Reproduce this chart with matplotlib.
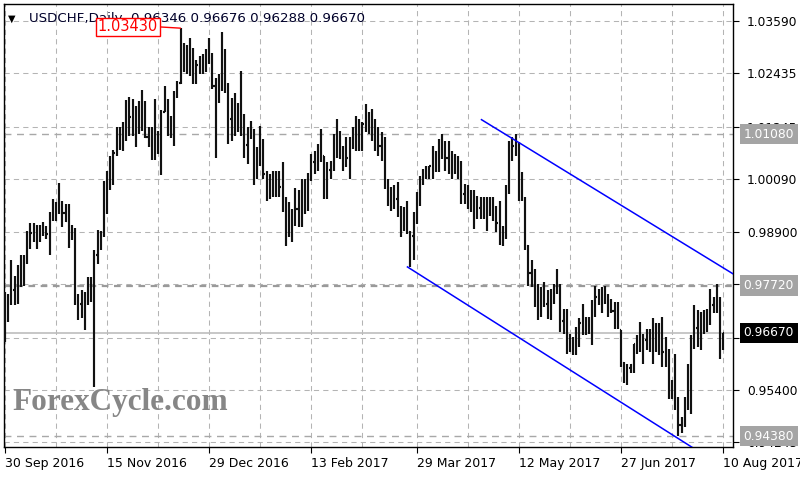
import numpy as np
import matplotlib
matplotlib.use("Agg")
import matplotlib.pyplot as plt
from matplotlib.collections import LineCollection

# USDCHF daily bars, 30 Sep 2016 .. 10 Aug 2017
highs = [
    0.9758, 0.9754, 0.9829, 0.9794, 0.9817, 0.9839, 0.9839, 0.9893, 0.9910, 0.9910,
    0.9907, 0.9907, 0.9914, 0.9905, 0.9935, 0.9964, 0.9957, 1.0000, 0.9960, 0.9953,
    0.9953, 0.9907, 0.9900, 0.9754, 0.9763, 0.9758, 0.9791, 0.9791, 0.9850, 0.9896,
    0.9894, 1.0005, 1.0027, 1.0060, 1.0073, 1.0123, 1.0123, 1.0134, 1.0183, 1.0191,
    1.0186, 1.0171, 1.0182, 1.0205, 1.0182, 1.0124, 1.0123, 1.0186, 1.0114, 1.0161,
    1.0215, 1.0186, 1.0149, 1.0204, 1.0226, 1.0343, 1.0311, 1.0306, 1.0322, 1.0300,
    1.0273, 1.0282, 1.0285, 1.0296, 1.0322, 1.0289, 1.0232, 1.0241, 1.0335, 1.0296,
    1.0222, 1.0188, 1.0200, 1.0178, 1.0248, 1.0152, 1.0123, 1.0138, 1.0119, 1.0079,
    1.0127, 1.0097, 1.0027, 1.0019, 1.0027, 1.0027, 1.0027, 1.0045, 0.9968, 0.9957,
    0.9942, 0.9989, 0.9983, 1.0008, 1.0008, 1.0021, 1.0064, 1.0070, 1.0086, 1.0119,
    1.0060, 1.0045, 1.0048, 1.0108, 1.0141, 1.0115, 1.0082, 1.0101, 1.0101, 1.0123,
    1.0149, 1.0141, 1.0134, 1.0174, 1.0156, 1.0163, 1.0141, 1.0123, 1.0112, 1.0102,
    1.0008, 0.9990, 0.9994, 1.0001, 0.9949, 0.9946, 0.9960, 0.9894, 0.9935, 0.9979,
    1.0016, 1.0031, 1.0038, 1.0038, 1.0082, 1.0071, 1.0097, 1.0108, 1.0093, 1.0093,
    1.0071, 1.0064, 1.0060, 1.0049, 0.9997, 0.9994, 0.9983, 0.9983, 0.9971, 0.9968,
    0.9968, 0.9968, 0.9968, 0.9968, 0.9949, 0.9960, 0.9905, 0.9994, 1.0093, 1.0101,
    1.0108, 1.0090, 1.0023, 0.9968, 0.9861, 0.9828, 0.9809, 0.9776, 0.9769, 0.9780,
    0.9761, 0.9765, 0.9776, 0.9809, 0.9776, 0.9721, 0.9721, 0.9665, 0.9658, 0.9680,
    0.9699, 0.9732, 0.9702, 0.9702, 0.9739, 0.9772, 0.9765, 0.9769, 0.9772, 0.9754,
    0.9743, 0.9735, 0.9735, 0.9673, 0.9603, 0.9599, 0.9599, 0.9643, 0.9662, 0.9691,
    0.9665, 0.9676, 0.9676, 0.9699, 0.9688, 0.9688, 0.9702, 0.9658, 0.9632, 0.9562,
    0.9621, 0.9525, 0.9481, 0.9525, 0.9599, 0.9662, 0.9728, 0.9717, 0.9713, 0.9717,
    0.9721, 0.9765, 0.9747, 0.9776, 0.9747, 0.96676,
]
lows = [
    0.9647, 0.9691, 0.9728, 0.9728, 0.9732, 0.9769, 0.9772, 0.9820, 0.9853, 0.9868,
    0.9853, 0.9868, 0.9883, 0.9876, 0.9839, 0.9916, 0.9916, 0.9931, 0.9901, 0.9912,
    0.9856, 0.9872, 0.9728, 0.9696, 0.9699, 0.9674, 0.9728, 0.9735, 0.9547, 0.9820,
    0.9850, 0.9879, 0.9931, 0.9983, 0.9994, 1.0060, 1.0073, 1.0071, 1.0093, 1.0104,
    1.0104, 1.0079, 1.0108, 1.0115, 1.0099, 1.0079, 1.0051, 1.0051, 1.0064, 1.0018,
    1.0156, 1.0104, 1.0099, 1.0082, 1.0189, 1.0219, 1.0245, 1.0241, 1.0237, 1.0219,
    1.0219, 1.0241, 1.0241, 1.0245, 1.0263, 1.0208, 1.0056, 1.0178, 1.0204, 1.0200,
    1.0086, 1.0093, 1.0104, 1.0112, 1.0104, 1.0056, 1.0042, 1.0097, 0.9994, 1.0008,
    1.0038, 1.0008, 0.9960, 0.9964, 0.9968, 0.9969, 0.9968, 0.9935, 0.9859, 0.9879,
    0.9868, 0.9903, 0.9901, 0.9901, 0.9931, 0.9938, 1.0005, 1.0019, 1.0027, 1.0045,
    0.9964, 0.9964, 1.0008, 1.0027, 1.0056, 1.0053, 1.0027, 1.0034, 1.0008, 1.0075,
    1.0071, 1.0071, 1.0071, 1.0112, 1.0108, 1.0093, 1.0071, 1.0060, 1.0049, 0.9986,
    0.9949, 0.9938, 0.9942, 0.9924, 0.9879, 0.9894, 0.9887, 0.9814, 0.9828, 0.9909,
    0.9949, 0.9994, 1.0008, 1.0008, 1.0008, 1.0023, 1.0023, 1.0053, 1.0027, 1.0019,
    1.0008, 1.0019, 1.0008, 0.9953, 0.9953, 0.9942, 0.9935, 0.9898, 0.9920, 0.9920,
    0.9920, 0.9894, 0.9927, 0.9916, 0.9890, 0.9861, 0.9859, 0.9876, 0.9975, 1.0049,
    1.0060, 0.9960, 0.9960, 0.9850, 0.9772, 0.9769, 0.9724, 0.9695, 0.9702, 0.9724,
    0.9698, 0.9695, 0.9732, 0.9754, 0.9669, 0.9665, 0.9621, 0.9625, 0.9617, 0.9617,
    0.9636, 0.9662, 0.9662, 0.9665, 0.9639, 0.9702, 0.9728, 0.9710, 0.9732, 0.9702,
    0.9710, 0.9676, 0.9676, 0.9591, 0.9555, 0.9551, 0.9577, 0.9577, 0.9621, 0.9625,
    0.9599, 0.9628, 0.9625, 0.9599, 0.9625, 0.9617, 0.9591, 0.9591, 0.9521, 0.9521,
    0.9496, 0.9438, 0.9444, 0.9459, 0.9496, 0.9488, 0.9632, 0.9636, 0.9628, 0.9665,
    0.9669, 0.9684, 0.9710, 0.9710, 0.9610, 0.96288,
]
opens = [
    0.9700, 0.9723, 0.9748, 0.9761, 0.9775, 0.9804, 0.9806, 0.9835, 0.9882, 0.9889,
    0.9880, 0.9888, 0.9899, 0.9891, 0.9887, 0.9930, 0.9937, 0.9950, 0.9945, 0.9933,
    0.9915, 0.9890, 0.9880, 0.9740, 0.9731, 0.9716, 0.9745, 0.9763, 0.9760, 0.9840,
    0.9872, 0.9885, 0.9979, 1.0022, 1.0034, 1.0065, 1.0098, 1.0103, 1.0125, 1.0148,
    1.0145, 1.0125, 1.0145, 1.0160, 1.0141, 1.0102, 1.0087, 1.0119, 1.0089, 1.0090,
    1.0150, 1.0160, 1.0124, 1.0143, 1.0195, 1.0222, 1.0278, 1.0274, 1.0280, 1.0260,
    1.0246, 1.0262, 1.0263, 1.0271, 1.0293, 1.0270, 1.0215, 1.0200, 1.0215, 1.0248,
    1.0210, 1.0141, 1.0152, 1.0145, 1.0160, 1.0120, 1.0083, 1.0110, 1.0110, 1.0044,
    1.0050, 1.0053, 1.0020, 0.9992, 0.9998, 0.9998, 0.9998, 0.9990, 0.9945, 0.9918,
    0.9905, 0.9930, 0.9942, 0.9955, 0.9970, 0.9980, 1.0010, 1.0045, 1.0057, 1.0080,
    1.0060, 1.0005, 1.0028, 1.0040, 1.0099, 1.0084, 1.0055, 1.0068, 1.0055, 1.0095,
    1.0110, 1.0106, 1.0103, 1.0130, 1.0132, 1.0128, 1.0106, 1.0092, 1.0081, 1.0060,
    0.9995, 0.9964, 0.9968, 0.9963, 0.9930, 0.9920, 0.9924, 0.9890, 0.9882, 0.9930,
    0.9970, 1.0010, 1.0023, 1.0023, 1.0040, 1.0047, 1.0060, 1.0081, 1.0060, 1.0056,
    1.0040, 1.0042, 1.0034, 1.0010, 0.9975, 0.9968, 0.9959, 0.9941, 0.9946, 0.9944,
    0.9944, 0.9931, 0.9948, 0.9942, 0.9920, 0.9911, 0.9882, 0.9900, 0.9985, 1.0075,
    1.0082, 1.0070, 0.9990, 0.9965, 0.9860, 0.9799, 0.9775, 0.9736, 0.9736, 0.9752,
    0.9730, 0.9730, 0.9754, 0.9770, 0.9760, 0.9693, 0.9671, 0.9645, 0.9638, 0.9649,
    0.9668, 0.9690, 0.9682, 0.9684, 0.9689, 0.9730, 0.9747, 0.9740, 0.9752, 0.9740,
    0.9727, 0.9715, 0.9706, 0.9680, 0.9600, 0.9575, 0.9588, 0.9595, 0.9642, 0.9658,
    0.9632, 0.9652, 0.9651, 0.9649, 0.9657, 0.9653, 0.9647, 0.9625, 0.9600, 0.9540,
    0.9545, 0.9505, 0.9463, 0.9475, 0.9520, 0.9575, 0.9650, 0.9677, 0.9671, 0.9691,
    0.9695, 0.9700, 0.9729, 0.9743, 0.9740, 0.96346,
]
closes = [
    0.9723, 0.9748, 0.9761, 0.9775, 0.9804, 0.9806, 0.9835, 0.9882, 0.9889, 0.9880,
    0.9888, 0.9899, 0.9891, 0.9887, 0.9930, 0.9937, 0.9950, 0.9945, 0.9933, 0.9915,
    0.9890, 0.9880, 0.9740, 0.9731, 0.9716, 0.9745, 0.9763, 0.9760, 0.9840, 0.9872,
    0.9885, 0.9979, 1.0022, 1.0034, 1.0065, 1.0098, 1.0103, 1.0125, 1.0148, 1.0145,
    1.0125, 1.0145, 1.0160, 1.0141, 1.0102, 1.0087, 1.0119, 1.0089, 1.0090, 1.0150,
    1.0160, 1.0124, 1.0143, 1.0195, 1.0222, 1.0278, 1.0274, 1.0280, 1.0260, 1.0246,
    1.0262, 1.0263, 1.0271, 1.0293, 1.0270, 1.0215, 1.0200, 1.0215, 1.0248, 1.0210,
    1.0141, 1.0152, 1.0145, 1.0160, 1.0120, 1.0083, 1.0110, 1.0110, 1.0044, 1.0050,
    1.0053, 1.0020, 0.9992, 0.9998, 0.9998, 0.9998, 0.9990, 0.9945, 0.9918, 0.9905,
    0.9930, 0.9942, 0.9955, 0.9970, 0.9980, 1.0010, 1.0045, 1.0057, 1.0080, 1.0060,
    1.0005, 1.0028, 1.0040, 1.0099, 1.0084, 1.0055, 1.0068, 1.0055, 1.0095, 1.0110,
    1.0106, 1.0103, 1.0130, 1.0132, 1.0128, 1.0106, 1.0092, 1.0081, 1.0060, 0.9995,
    0.9964, 0.9968, 0.9963, 0.9930, 0.9920, 0.9924, 0.9890, 0.9882, 0.9930, 0.9970,
    1.0010, 1.0023, 1.0023, 1.0040, 1.0047, 1.0060, 1.0081, 1.0060, 1.0056, 1.0040,
    1.0042, 1.0034, 1.0010, 0.9975, 0.9968, 0.9959, 0.9941, 0.9946, 0.9944, 0.9944,
    0.9931, 0.9948, 0.9942, 0.9920, 0.9911, 0.9882, 0.9900, 0.9985, 1.0075, 1.0082,
    1.0070, 0.9990, 0.9965, 0.9860, 0.9799, 0.9775, 0.9736, 0.9736, 0.9752, 0.9730,
    0.9730, 0.9754, 0.9770, 0.9760, 0.9693, 0.9671, 0.9645, 0.9638, 0.9649, 0.9668,
    0.9690, 0.9682, 0.9684, 0.9689, 0.9730, 0.9747, 0.9740, 0.9752, 0.9740, 0.9727,
    0.9715, 0.9706, 0.9680, 0.9600, 0.9575, 0.9588, 0.9595, 0.9642, 0.9658, 0.9632,
    0.9652, 0.9651, 0.9649, 0.9657, 0.9653, 0.9647, 0.9625, 0.9600, 0.9540, 0.9545,
    0.9505, 0.9463, 0.9475, 0.9520, 0.9575, 0.9650, 0.9677, 0.9671, 0.9691, 0.9695,
    0.9700, 0.9729, 0.9743, 0.9740, 0.96346, 0.96670,
]

# date labels sit on these bar numbers
date_bars = [0, 32, 64, 96, 129, 161, 193, 225]
date_labels = ["30 Sep 2016", "15 Nov 2016", "29 Dec 2016", "13 Feb 2017",
               "29 Mar 2017", "12 May 2017", "27 Jun 2017", "10 Aug 2017"]
vgrid_bars = [0, 16, 32, 48, 64, 80, 96, 112, 129, 145, 161, 177, 193, 209, 225]

price_ticks = [1.03590, 1.02435, 1.01245, 1.00090, 0.98900,
               0.97745, 0.96555, 0.95400, 0.94245]
# scale labels that the price boxes hide completely
hidden_ticks = [0.97745, 0.96555]

# horizontal levels drawn on the chart, and the channel lines (bar, price)
levels = [1.0108, 0.9772, 0.9438]
last_price = 0.96670
chart_high = 1.03430
chart_high_bar = 55
upper_channel = ([149.3, 228.1], [1.0140, 0.9798])
lower_channel = ([126.1, 222.0], [0.98133, 0.9383])

title = "USDCHF,Daily  0.96346 0.96676 0.96288 0.96670"

assert len(highs) == len(lows) == len(opens) == len(closes)
n = len(highs)
x = np.arange(n)

fig = plt.figure(figsize=(8, 4.8), dpi=100)
ax = fig.add_axes([4 / 800, 1 - 447 / 480, 729 / 800, 443 / 480])
ax.set_xlim(-0.3, 228.1)
ax.set_ylim(0.94138, 1.03966)

grid_kw = dict(color="#b4b4b4", lw=0.75, ls=(0, (5, 4)), zorder=1)
for b in vgrid_bars:
    ax.axvline(b, **grid_kw)
for p in price_ticks:
    ax.axhline(p, **grid_kw)

# level lines
ax.axhline(levels[0], color="#a8a8a8", lw=1.0, ls=(0, (5, 4)), zorder=1.5)
ax.axhline(levels[1], color="#9a9a9a", lw=1.6, ls=(0, (3, 2.5)), zorder=1.5)
ax.axhline(levels[2], color="#a8a8a8", lw=1.0, ls=(0, (5, 4)), zorder=1.5)
ax.axhline(last_price, color="#bdbdbd", lw=1.2, zorder=1.5)

# OHLC bars
o = np.clip(opens, lows, highs)
c = np.clip(closes, lows, highs)
w = 0.35
segs = [[(xi, lo), (xi, hi)] for xi, lo, hi in zip(x, lows, highs)]
segs += [[(xi - w, oi), (xi, oi)] for xi, oi in zip(x, o)]
segs += [[(xi, ci), (xi + w, ci)] for xi, ci in zip(x, c)]
ax.add_collection(LineCollection(segs, colors="#111111", linewidths=1.55, zorder=3))

# channel
ax.plot(*upper_channel, color="#0000ff", lw=1.1, zorder=4)
ax.plot(*lower_channel, color="#0000ff", lw=1.1, zorder=4)

# high marker
ax.annotate(f"{chart_high:.5f}", xy=(chart_high_bar, chart_high),
            xytext=(29, chart_high + 0.0003), color="red", fontsize=10.5,
            ha="left", va="center", zorder=6,
            bbox=dict(boxstyle="square,pad=0.12", fc="white", ec="red", lw=1),
            arrowprops=dict(arrowstyle="-", color="red", lw=1,
                            shrinkA=0, shrinkB=0, relpos=(1, 0.5)))

ax.text(0.006, 0.967, "\u25bc", transform=ax.transAxes, fontsize=7,
        color="#000000", va="center", ha="left")
ax.text(0.034, 0.967, title, transform=ax.transAxes, fontsize=9.6,
        color="#00002a", va="center", ha="left")

ax.text(0.012, 0.10, "ForexCycle.com", transform=ax.transAxes,
        family="Liberation Serif", weight="bold", fontsize=22.5,
        color="#868686", va="center", ha="left", zorder=2)

# axes styling
for s in ax.spines.values():
    s.set_color("black")
    s.set_linewidth(1.0)
ax.yaxis.tick_right()
ax.set_yticks(price_ticks)
ax.set_yticklabels(["" if p in hidden_ticks else f"{p:.5f}" for p in price_ticks])
ax.tick_params(axis="y", direction="out", length=4, width=0.8, pad=6,
               labelsize=8.8, colors="black")
ax.set_xticks(date_bars)
ax.set_xticklabels(date_labels, ha="left")
ax.tick_params(axis="x", direction="out", length=4, width=0.8, pad=3,
               labelsize=9, colors="black")

# price boxes on the right scale
tr = ax.get_yaxis_transform()
box_prices = [levels[0], levels[1], last_price, levels[2]]
box_colors = ["#a4a4a4", "#a4a4a4", "#000000", "#a4a4a4"]
for p, fc in zip(box_prices, box_colors):
    ax.text(1.0145, p, f"{p:.5f}", transform=tr, fontsize=8.8, color="white",
            ha="left", va="center", clip_on=False, zorder=10,
            bbox=dict(boxstyle="square,pad=0.3", fc=fc, ec="none"))

fig.savefig("out.png", dpi=100, facecolor="white")
